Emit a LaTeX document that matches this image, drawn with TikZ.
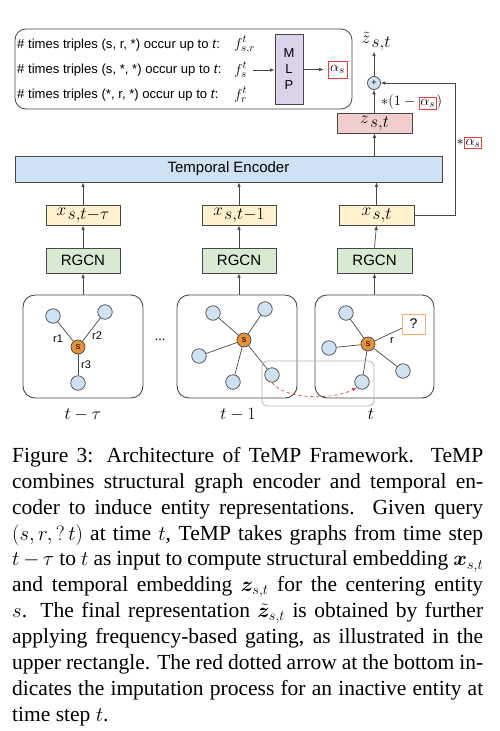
\documentclass[tikz,border=0pt]{standalone}
\usepackage[no-math]{fontspec}
\setmainfont{Liberation Serif}
\newfontfamily\arial{Liberation Sans}
\usepackage{amsmath,bm}
\usetikzlibrary{arrows.meta}
\definecolor{linec}{HTML}{474747}
\definecolor{teblue}{HTML}{CFE2F3}
\definecolor{xyel}{HTML}{FFF2CC}
\definecolor{rgreen}{HTML}{D9EAD3}
\definecolor{zpink}{HTML}{F2CDCD}
\definecolor{mlpc}{HTML}{D9D2E9}
\definecolor{nodeb}{HTML}{CFE2F3}
\definecolor{orng}{HTML}{E69138}
\definecolor{qorng}{HTML}{F6B26B}
\definecolor{redc}{HTML}{EE3B3B}
\definecolor{grayb}{HTML}{B7B7B7}
\newcommand\subsz[1]{\hspace{1.5pt}\raisebox{-4pt}{\fontsize{16.5}{16.5}\selectfont$#1$}}
\newcommand\redfr[1]{\mbox{\setlength\fboxsep{1pt}\setlength\fboxrule{0.8pt}\fcolorbox{redc}{white}{$#1$}}}
\tikzset{
  bx/.style={draw=linec, line width=0.8pt, inner sep=0pt},
  arr/.style={-{Latex[length=4.5pt,width=3.5pt]}, line width=0.7pt, draw=linec},
  ent/.style={circle, draw=linec, line width=0.7pt, fill=nodeb, minimum size=14.5pt, inner sep=0pt},
  sent/.style={circle, draw=linec, line width=0.7pt, fill=orng, minimum size=14pt, inner sep=0pt, font=\arial\fontsize{9}{9}\selectfont},
  gbox/.style={draw=linec, line width=0.9pt, rounded corners=12pt, minimum width=120pt, minimum height=103pt, inner sep=0pt},
  edg/.style={line width=0.7pt, draw=linec},
  rowtxt/.style={anchor=west, inner sep=0pt, font=\arial\fontsize{13.1}{16}\selectfont},
  mathbig/.style={font=\fontsize{19}{19}\selectfont},
  sans15/.style={font=\arial\fontsize{15}{15}\selectfont},
  elab/.style={inner sep=0pt, font=\arial\fontsize{11}{11}\selectfont},
}
\begin{document}
\begin{tikzpicture}[x=1pt,y=-1pt]
\useasboundingbox[fill=white] (0,0) rectangle (500,731);
% top frequency box
\node[bx, rounded corners=11pt, minimum width=337pt, minimum height=80pt] (freq) at (183.5,69) {};
\node[rowtxt] (row1) at (17,45) {\# times triples (s, r, *) occur up to \textit{t}:};
\node[rowtxt] (row2) at (17,70) {\# times triples (s, *, *) occur up to \textit{t}:};
\node[rowtxt] (row3) at (17,95) {\# times triples (*, r, *) occur up to \textit{t}:};
\node[anchor=west, inner sep=0pt, font=\fontsize{15}{15}\selectfont] (fsr) at (234,45) {$f^t_{s,r}$};
\node[anchor=west, inner sep=0pt, font=\fontsize{15}{15}\selectfont] (fs) at (234,70) {$f^t_{s}$};
\node[anchor=west, inner sep=0pt, font=\fontsize{15}{15}\selectfont] (fr) at (234,95) {$f^t_{r}$};
\node[bx, fill=mlpc, minimum width=28pt, minimum height=70pt, align=center, font=\arial\fontsize{13}{16}\selectfont] (mlp) at (289,69) {M\\L\\P};
\node[draw=redc, line width=0.8pt, inner sep=0pt, minimum width=19pt, minimum height=17pt, font=\fontsize{15}{15}\selectfont] (alpha) at (337.5,69.5) {$\alpha_s$};
\draw[arr, shorten <=6pt] (fs.east) -- (mlp.west |- fs.east);
\draw[arr, shorten >=4pt] (mlp.east |- alpha.west) -- (alpha.west);
% gating
\node[mathbig, inner sep=0pt] (zt) at (376,42) {$\tilde{z}$\subsz{s{,}t}};
\node[circle, draw=linec, line width=0.7pt, fill=teblue, minimum size=13pt, inner sep=0pt, font=\arial\fontsize{9}{9}\selectfont] (plus) at (374,83) {+};
\node[bx, fill=zpink, minimum width=75pt, minimum height=20pt, mathbig] (zst) at (374.5,123) {$z$\subsz{s{,}t}};
\node[anchor=west, inner sep=0pt, font=\fontsize{15}{15}\selectfont] (gate1) at (381,102) {$*(1-\redfr{\alpha_s})$};
\draw[arr] (plus.north) -- (zt.south -| plus.north);
\draw[arr] (zst.north -| plus.south) -- (plus.south);
% temporal encoder
\node[bx, fill=teblue, minimum width=427pt, minimum height=26pt, sans15] (te) at (228.5,169) {Temporal Encoder};
\draw[arr] (te.north -| zst.south) -- (zst.south);
% x boxes
\node[bx, fill=xyel, minimum width=74pt, minimum height=20pt, mathbig] (x1) at (83,215) {$x$\subsz{s{,}t{-}\tau}};
\node[bx, fill=xyel, minimum width=74pt, minimum height=20pt, mathbig] (x2) at (239,215) {$x$\subsz{s{,}t{-}1}};
\node[bx, fill=xyel, minimum width=75pt, minimum height=20pt, mathbig] (x3) at (376.5,215) {$x$\subsz{s{,}t}};
\draw[arr] (x1.north) -- (te.south -| x1.north);
\draw[arr] (x2.north) -- (te.south -| x2.north);
\draw[arr] (x3.north) -- (te.south -| x3.north);
% feedback
\coordinate (fb1) at (455,215);
\coordinate (fb2) at (455,83);
\draw[arr] (x3.east) -- (fb1) -- (fb2) -- (plus.east);
\node[anchor=west, inner sep=0pt, font=\fontsize{15}{15}\selectfont] (gate2) at (456.5,143) {$*\redfr{\alpha_s}$};
% RGCN
\node[bx, fill=rgreen, minimum width=74pt, minimum height=25pt, sans15] (r1) at (83,260.5) {RGCN};
\node[bx, fill=rgreen, minimum width=74pt, minimum height=25pt, sans15] (r2) at (239,260.5) {RGCN};
\node[bx, fill=rgreen, minimum width=75pt, minimum height=25pt, sans15] (r3) at (374.5,260.5) {RGCN};
\draw[arr] (r1.north) -- (x1.south);
\draw[arr] (r2.north) -- (x2.south);
\draw[arr] (r3.north) -- (x3.south);
% graph boxes
\node[gbox] (g1) at (83,346.5) {};
\node[gbox] (g2) at (237,346.5) {};
\node[gbox, minimum width=119pt] (g3) at (374.5,346.5) {};
\draw[arr] (g1.north) -- (r1.south);
\draw[arr] (g2.north -| r2.south) -- (r2.south);
\draw[arr] (g3.north) -- (r3.south);
\node[inner sep=0pt, font=\fontsize{14}{14}\selectfont] (dots) at (160,340) {...};
% graph 1
\node[sent] (s1) at (78,347) {s};
\node[ent] (a1) at (53,316) {};
\node[ent] (b1) at (105,312) {};
\node[ent] (c1) at (78,383) {};
\draw[edg] (s1) -- (a1);
\draw[edg] (s1) -- (b1);
\draw[edg] (s1) -- (c1);
\node[elab] (lr1) at (58,339) {r1};
\node[elab] (lr2) at (97,336) {r2};
\node[elab] (lr3) at (86,365) {r3};
% graph 2
\node[sent] (s2) at (244,340) {s};
\node[ent] (a2) at (213,313) {};
\node[ent] (b2) at (265,309) {};
\node[ent] (c2) at (199,356) {};
\node[ent] (d2) at (233,382) {};
\node[ent] (e2) at (272,375) {};
\foreach \n in {a2,b2,c2,d2,e2} \draw[edg] (s2) -- (\n);
% graph 3
\node[sent] (s3) at (368,344) {s};
\node[ent] (a3) at (346,313) {};
\node[ent] (b3) at (329,348) {};
\node[ent] (c3) at (403,371) {};
\node[ent] (d3) at (362,382) {};
\node[draw=qorng, line width=0.9pt, fill=white, minimum width=23pt, minimum height=20pt, inner sep=0pt, font=\arial\fontsize{14}{14}\selectfont] (q) at (413.5,324) {?};
\foreach \n in {a3,b3,c3,d3} \draw[edg] (s3) -- (\n);
\draw[edg] (s3) -- (q.200);
\node[elab] (lr) at (392,341) {r};
% imputation
\node[draw=grayb, line width=0.9pt, rounded corners=5pt, minimum width=112pt, minimum height=45pt, inner sep=0pt] (imp) at (318,383.5) {};
\draw[redc, dashed, line width=0.7pt, -{Latex[length=4.5pt,width=3.5pt]}] (e2.south) .. controls (285,400) and (335,400) .. (d3.south west);
% time labels
\node[inner sep=0pt, font=\fontsize{18}{18}\selectfont] (t1) at (83,415) {$t-\tau$};
\node[inner sep=0pt, font=\fontsize{18}{18}\selectfont] (t2) at (238,415) {$t-1$};
\node[inner sep=0pt, font=\fontsize{18}{18}\selectfont] (t3) at (371,414) {$t$};
% caption
\node[anchor=north west, inner sep=0pt, text width=471pt, align=justify, font=\fontsize{21.5}{25.9}\selectfont] (cap) at (12,447) {Figure 3: Architecture of TeMP Framework.\ \ TeMP\linebreak combines structural graph encoder and temporal en-\linebreak coder to induce entity representations.\ \ Given query\linebreak $(s,r,?\,t)$ at time $t$, TeMP takes graphs from time step\linebreak $t-\tau$ to $t$ as input to compute structural embedding $\bm{x}_{s,t}$\linebreak and temporal embedding $\bm{z}_{s,t}$ for the centering entity\linebreak $s$. The final representation $\tilde{\bm{z}}_{s,t}$ is obtained by further\linebreak applying frequency-based gating, as illustrated in the\linebreak upper rectangle. The red dotted arrow at the bottom in-\linebreak dicates the imputation process for an inactive entity at\linebreak time step $t$.};
\end{tikzpicture}
\end{document}
